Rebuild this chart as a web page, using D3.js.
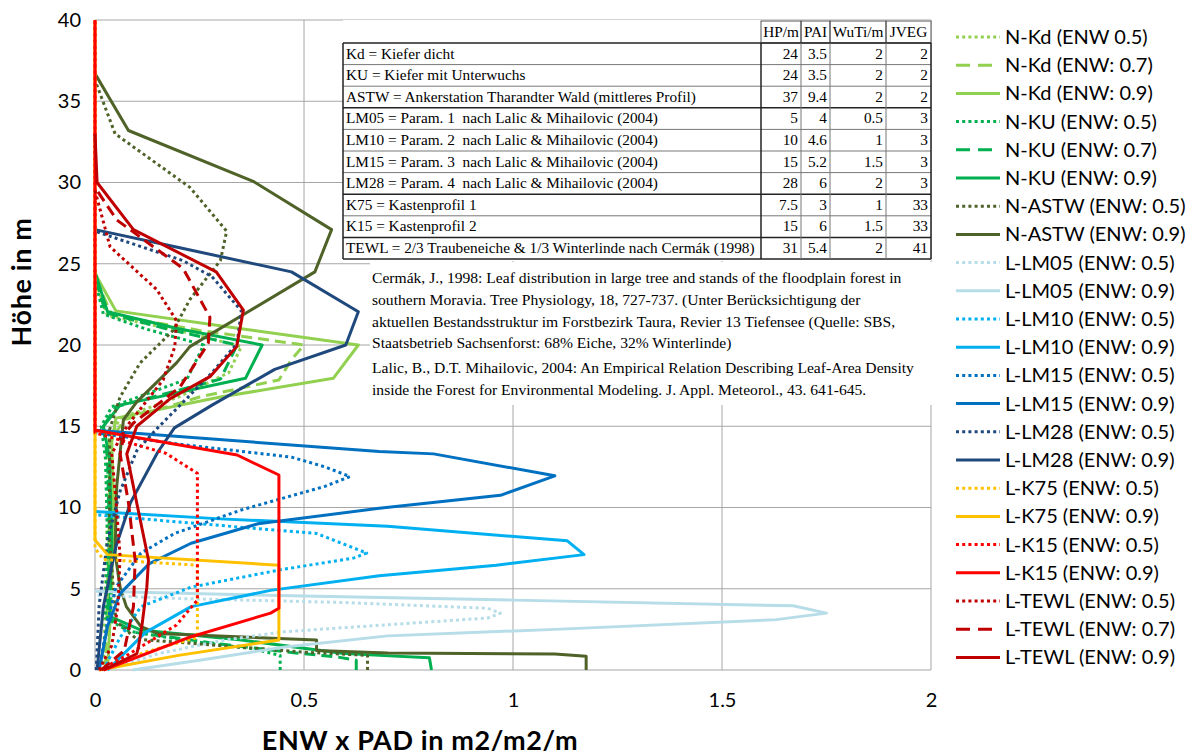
<!DOCTYPE html>
<html lang="de">
<meta charset="utf-8">
<head>
<title>ENW x PAD Profile</title>
<script src="https://cdn.jsdelivr.net/npm/d3@7/dist/d3.min.js"></script>
<style>
  body { margin: 0; background: #fff; }
  svg { display: block; }
  .axis text { font-family: Lato, "Liberation Sans", sans-serif; font-size: 20px; fill: #000; }
  .title { font-family: Lato, "Liberation Sans", sans-serif; font-size: 27px; font-weight: bold; letter-spacing: 0.6px; }
  .legend text { font-family: Lato, "Liberation Sans", sans-serif; font-size: 20px; fill: #000; }
  .tbl text { font-family: "Liberation Serif", "DejaVu Serif", serif; font-size: 15.3px; fill: #000; white-space: pre; }
  .refs text { font-family: "Liberation Serif", "DejaVu Serif", serif; font-size: 15.6px; fill: #000; }
</style>
</head>
<body>
<script>
// ---- data: profiles as [ENW x PAD, height] ----
const xTicks = [0, 0.5, 1, 1.5, 2];
const yTicks = [0, 5, 10, 15, 20, 25, 30, 35, 40];

const seriesNames = [
  "N-Kd (ENW 0.5)", "N-Kd (ENW: 0.7)", "N-Kd (ENW: 0.9)",
  "N-KU (ENW: 0.5)", "N-KU (ENW: 0.7)", "N-KU (ENW: 0.9)",
  "N-ASTW (ENW: 0.5)", "N-ASTW (ENW: 0.9)",
  "L-LM05 (ENW: 0.5)", "L-LM05 (ENW: 0.9)",
  "L-LM10 (ENW: 0.5)", "L-LM10 (ENW: 0.9)",
  "L-LM15 (ENW: 0.5)", "L-LM15 (ENW: 0.9)",
  "L-LM28 (ENW: 0.5)", "L-LM28 (ENW: 0.9)",
  "L-K75 (ENW: 0.5)", "L-K75 (ENW: 0.9)",
  "L-K15 (ENW: 0.5)", "L-K15 (ENW: 0.9)",
  "L-TEWL (ENW: 0.5)", "L-TEWL (ENW: 0.7)", "L-TEWL (ENW: 0.9)"
];

const nKd05 = [[0.02,0],[0.025,5],[0.03,10],[0.03,14],[0.06,15.5],[0.2,16.8],[0.32,18.3],[0.35,19.9],[0.2,20.9],[0.03,21.8],[0,24]];
const nKd07 = [[0.025,0],[0.03,5],[0.035,10],[0.035,14],[0.07,15.4],[0.25,16.8],[0.44,17.85],[0.47,19.1],[0.5,20],[0.25,20.9],[0.04,21.85],[0,24.2]];
const nKd09 = [[0.03,0],[0.04,5],[0.045,10],[0.04,14],[0.05,15.5],[0.3,16.8],[0.57,17.95],[0.63,20],[0.35,21],[0.05,22.1],[0,24.4]];
const nKU05 = [[0.443,0],[0.443,0.9],[0.38,1.3],[0.22,1.8],[0.08,2.4],[0.025,3.2],[0.03,8],[0.025,13],[0.015,15],[0.04,16.2],[0.22,17.9],[0.26,20],[0.12,21],[0.02,21.9],[0,24]];
const nKU07 = [[0.625,0],[0.625,0.6],[0.58,0.8],[0.48,1.05],[0.3,1.6],[0.1,2.3],[0.03,3.2],[0.035,8],[0.03,13],[0.02,15],[0.05,16.2],[0.3,17.9],[0.34,20],[0.17,21],[0.025,22],[0,24.3]];
const nKU09 = [[0.805,0],[0.8,0.75],[0.68,0.9],[0.59,1.03],[0.35,1.85],[0.11,2.46],[0.035,3.3],[0.04,8],[0.035,13],[0.02,15],[0.06,16.3],[0.36,17.95],[0.4,20],[0.2,21],[0.03,22.05],[0,24.5]];
const nASTW05 = [[0.652,0],[0.652,0.9],[0.5,1.1],[0.3,1.5],[0.1,1.9],[0.05,3],[0.035,8],[0.035,14.8],[0.06,16.8],[0.108,18.9],[0.187,20.9],[0.227,22.8],[0.3,25.2],[0.315,27],[0.227,29.7],[0.048,33],[0,36.3]];
const nASTW09 = [[1.175,0],[1.175,0.85],[1.1,0.98],[0.7,1.05],[0.53,1.2],[0.53,1.85],[0.15,2.25],[0.11,2.67],[0.075,3.9],[0.06,5.1],[0.048,7.2],[0.052,11.3],[0.068,15.4],[0.1,16.5],[0.195,18.9],[0.227,19.9],[0.526,24.5],[0.566,27.1],[0.38,30.05],[0.08,33.2],[0,36.7]];
const lLM05a = [[0.03,0],[0.15,1],[0.3,1.8],[0.45,2.35],[0.68,2.75],[0.94,3.2],[0.97,3.5],[0.94,3.8],[0.6,4.15],[0.2,4.4],[0,4.6]];
const lLM05b = [[0.09,0],[0.25,0.6],[0.45,1.4],[0.7,2.1],[1.1,2.5],[1.63,3.1],[1.75,3.5],[1.67,3.95],[1.0,4.3],[0.5,4.55],[0,4.85]];
const lLM10a = [[0.02,0],[0.06,2],[0.11,3.9],[0.23,5.1],[0.44,6.15],[0.62,6.9],[0.65,7.2],[0.6,7.7],[0.53,8.4],[0.25,9.0],[0,9.55]];
const lLM10b = [[0.03,0],[0.12,2.3],[0.23,3.9],[0.42,4.9],[0.68,5.8],[0.96,6.45],[1.17,7.1],[1.13,7.95],[0.7,8.85],[0.3,9.3],[0,9.75]];
const lLM15a = [[0.01,0],[0.03,3],[0.05,5.1],[0.11,7.2],[0.19,8.4],[0.35,9.85],[0.55,11.3],[0.61,11.9],[0.55,12.5],[0.47,13.1],[0.2,13.9],[0,14.6]];
const lLM15b = [[0.01,0],[0.03,2.7],[0.06,4.7],[0.13,6.55],[0.23,7.8],[0.39,9.0],[0.68,9.95],[0.97,10.75],[1.1,11.95],[0.81,13.3],[0.68,13.45],[0,14.75]];
const lLM28a = [[0.003,0],[0.01,4],[0.03,8],[0.06,11],[0.1,13.5],[0.15,14.9],[0.2,16.2],[0.28,18.3],[0.34,20.1],[0.35,22.1],[0.28,24.2],[0.21,25.2],[0,27]];
const lLM28b = [[0.005,0],[0.02,3.9],[0.05,7.6],[0.085,10.3],[0.15,13.4],[0.19,14.9],[0.28,16.3],[0.43,18.5],[0.6,20],[0.63,22.05],[0.47,24.5],[0.2,26],[0,27.1]];
const lK75a = [[0.01,0],[0.12,1.1],[0.245,2],[0.245,6.45],[0.02,6.8],[0,7.5],[0,40]];
const lK75b = [[0.01,0],[0.2,0.9],[0.44,1.85],[0.44,6.45],[0.03,7.1],[0,8],[0,40]];
const lK15a = [[0.01,0],[0.07,0.8],[0.195,2.77],[0.245,4.3],[0.245,12.1],[0.17,13.33],[0,14.6],[0,40]];
const lK15b = [[0.02,0],[0.23,2.05],[0.42,3.5],[0.44,3.8],[0.44,12],[0.34,13.23],[0,14.75],[0,40]];
const lTEWLa = [[0.01,0],[0.04,1.5],[0.055,4],[0.06,7],[0.05,10.5],[0.04,13.3],[0.076,15],[0.163,17.85],[0.191,19.9],[0.195,21.5],[0.148,23.4],[0.036,26.05],[0,29.5]];
const lTEWLb = [[0.015,0],[0.07,1.2],[0.092,3.9],[0.096,6.77],[0.08,10.3],[0.06,13.3],[0.07,14.5],[0.092,15.2],[0.203,17.4],[0.271,20.1],[0.275,21.7],[0.211,24.7],[0.052,27.7],[0,29.7]];
const lTEWLc = [[0.02,0],[0.1,1],[0.104,1.43],[0.112,2.67],[0.124,5.1],[0.128,6.77],[0.1,10.26],[0.076,13.3],[0.1,15],[0.18,16.7],[0.275,18.05],[0.339,19.9],[0.355,22.15],[0.29,24.5],[0.092,27.1],[0.005,30],[0,33]];

const seriesData = [nKd05, nKd07, nKd09, nKU05, nKU07, nKU09, nASTW05, nASTW09,
  lLM05a, lLM05b, lLM10a, lLM10b, lLM15a, lLM15b, lLM28a, lLM28b,
  lK75a, lK75b, lK15a, lK15b, lTEWLa, lTEWLb, lTEWLc];

// table
const tableHeader = ["HP/m", "PAI", "WuTi/m", "JVEG"];
const tableLabels = [
  "Kd = Kiefer dicht",
  "KU = Kiefer mit Unterwuchs",
  "ASTW = Ankerstation Tharandter Wald (mittleres Profil)",
  "LM05 = Param. 1  nach Lalic & Mihailovic (2004)",
  "LM10 = Param. 2  nach Lalic & Mihailovic (2004)",
  "LM15 = Param. 3  nach Lalic & Mihailovic (2004)",
  "LM28 = Param. 4  nach Lalic & Mihailovic (2004)",
  "K75 = Kastenprofil 1",
  "K15 = Kastenprofil 2",
  "TEWL = 2/3 Traubeneiche & 1/3 Winterlinde nach Cermák (1998)"
];
const tableValues = [
  [24, 3.5, 2, 2], [24, 3.5, 2, 2], [37, 9.4, 2, 2],
  [5, 4, 0.5, 3], [10, 4.6, 1, 3], [15, 5.2, 1.5, 3], [28, 6, 2, 3],
  [7.5, 3, 1, 33], [15, 6, 1.5, 33], [31, 5.4, 2, 41]
];
const refLines = [
  "Cermák, J., 1998: Leaf distribution in large tree and stands of the floodplain forest in",
  "southern Moravia. Tree Physiology, 18, 727-737. (Unter Berücksichtigung der",
  "aktuellen Bestandsstruktur im Forstbezirk Taura, Revier 13 Tiefensee (Quelle: SBS,",
  "Staatsbetrieb Sachsenforst: 68% Eiche, 32% Winterlinde)",
  "Lalic, B., D.T. Mihailovic, 2004: An Empirical Relation Describing Leaf-Area Density",
  "inside the Forest for Environmental Modeling. J. Appl. Meteorol., 43. 641-645."
];

// ---- styles ----
const groupColor = { "N-Kd": "#92d050", "N-KU": "#00b050", "N-ASTW": "#4f6228",
  "L-LM05": "#b7dde8", "L-LM10": "#00b0f0", "L-LM15": "#0070c0", "L-LM28": "#1f497d",
  "L-K75": "#ffc000", "L-K15": "#ff0000", "L-TEWL": "#c00000" };
const dashFor = { "0.5": "3 3.2", "0.7": "11 6", "0.9": null };
const legendDash = { "0.5": "3 3.2", "0.7": "14 8", "0.9": null };

const W = 1193, H = 756;
const svg = d3.select("body").append("svg").attr("width", W).attr("height", H);

const x = d3.scaleLinear().domain([0, 2]).range([95, 931]);
const y = d3.scaleLinear().domain([0, 40]).range([670, 20]);

// gridlines
svg.append("g").selectAll("line").data(yTicks).join("line")
  .attr("x1", x(0)).attr("x2", x(2)).attr("y1", d => y(d)).attr("y2", d => y(d))
  .attr("stroke", "#a6a6a6").attr("stroke-width", 1);
svg.append("g").selectAll("line").data(xTicks).join("line")
  .attr("y1", y(0)).attr("y2", y(40)).attr("x1", d => x(d)).attr("x2", d => x(d))
  .attr("stroke", "#a6a6a6").attr("stroke-width", 1);

// axes labels
const yAxis = svg.append("g").attr("class", "axis").attr("transform", `translate(${x(0)},0)`)
  .call(d3.axisLeft(y).tickValues(yTicks).tickSize(0).tickPadding(14));
yAxis.select(".domain").remove();
const xAxis = svg.append("g").attr("class", "axis").attr("transform", `translate(0,${y(0)})`)
  .call(d3.axisBottom(x).tickValues(xTicks).tickFormat(d3.format("")).tickSize(0).tickPadding(23));
xAxis.select(".domain").remove();

svg.append("text").attr("class", "title")
  .attr("transform", `translate(31,282) rotate(-90)`)
  .attr("text-anchor", "middle").text("Höhe in m");
svg.append("text").attr("class", "title")
  .attr("x", 420).attr("y", 750).attr("text-anchor", "middle").text("ENW x PAD in m2/m2/m");

// series
const line = d3.line().x(d => x(d[0])).y(d => y(d[1]));
const styleOf = name => {
  const grp = name.split(" ")[0];
  const enw = name.match(/(\d\.\d)\)/)[1];
  return { color: groupColor[grp], dash: dashFor[enw], legendDash: legendDash[enw] };
};

svg.append("g").selectAll("path").data(seriesData).join("path")
  .attr("d", line)
  .attr("fill", "none")
  .attr("stroke", (d, i) => styleOf(seriesNames[i]).color)
  .attr("stroke-width", 3)
  .attr("stroke-linejoin", "round")
  .attr("stroke-dasharray", (d, i) => styleOf(seriesNames[i]).dash);

// table
const tbl = svg.append("g").attr("class", "tbl");
const colX = [343, 761, 801, 830, 886, 931];
const rowTop = 43, rowH = 21.6, headTop = 20;
tbl.append("rect").attr("x", colX[0]).attr("y", headTop).attr("width", colX[5] - colX[0])
  .attr("height", rowTop + rowH * tableLabels.length - headTop + 2).attr("fill", "#fff");
tableHeader.forEach((h, j) => {
  tbl.append("rect").attr("x", colX[j + 1]).attr("y", headTop + 1)
    .attr("width", colX[j + 2] - colX[j + 1]).attr("height", rowTop - headTop - 1)
    .attr("fill", "none").attr("stroke", "#555").attr("stroke-width", 1);
  tbl.append("text").attr("x", (colX[j + 1] + colX[j + 2]) / 2).attr("y", rowTop - 6)
    .attr("text-anchor", "middle").text(h);
});
tableLabels.forEach((lab, i) => {
  const ty = rowTop + i * rowH;
  tbl.append("text").attr("x", colX[0] + 3).attr("y", ty + rowH - 6).text(lab);
  tableValues[i].forEach((v, j) => {
    tbl.append("text").attr("x", colX[j + 2] - 3).attr("y", ty + rowH - 6)
      .attr("text-anchor", "end").text(v);
  });
  tbl.append("line").attr("x1", colX[0]).attr("x2", colX[5]).attr("y1", ty).attr("y2", ty)
    .attr("stroke", [0, 3, 7, 9].includes(i) ? "#222" : "#777")
    .attr("stroke-width", [0, 3, 7, 9].includes(i) ? 1.5 : 1);
});
const tblBottom = rowTop + rowH * tableLabels.length;
tbl.append("line").attr("x1", colX[0]).attr("x2", colX[5]).attr("y1", tblBottom).attr("y2", tblBottom)
  .attr("stroke", "#222").attr("stroke-width", 1.5);
colX.forEach((cx, j) => {
  const strong = j === 0 || j === 1 || j === 5;
  tbl.append("line").attr("x1", cx).attr("x2", cx).attr("y1", rowTop).attr("y2", tblBottom)
    .attr("stroke", strong ? "#222" : "#777").attr("stroke-width", strong ? 1.5 : 1);
});

// reference text box
const refs = svg.append("g").attr("class", "refs");
refs.append("rect").attr("x", 370).attr("y", 262).attr("width", 562).attr("height", 143).attr("fill", "#fff");
refs.selectAll("text").data(refLines).join("text")
  .attr("x", 372).attr("y", (d, i) => 283 + i * 21.8 + (i >= 4 ? 3 : 0))
  .text(d => d);

// legend
const lg = svg.append("g").attr("class", "legend");
const items = lg.selectAll("g").data(seriesNames).join("g")
  .attr("transform", (d, i) => `translate(956,${37 + i * 28.2})`);
items.append("line").attr("x1", 0).attr("x2", 44)
  .attr("stroke", d => styleOf(d).color).attr("stroke-width", 3)
  .attr("stroke-dasharray", d => styleOf(d).legendDash);
items.append("text").attr("x", 49).attr("dy", "0.35em").text(d => d);
</script>
</body>
</html>
